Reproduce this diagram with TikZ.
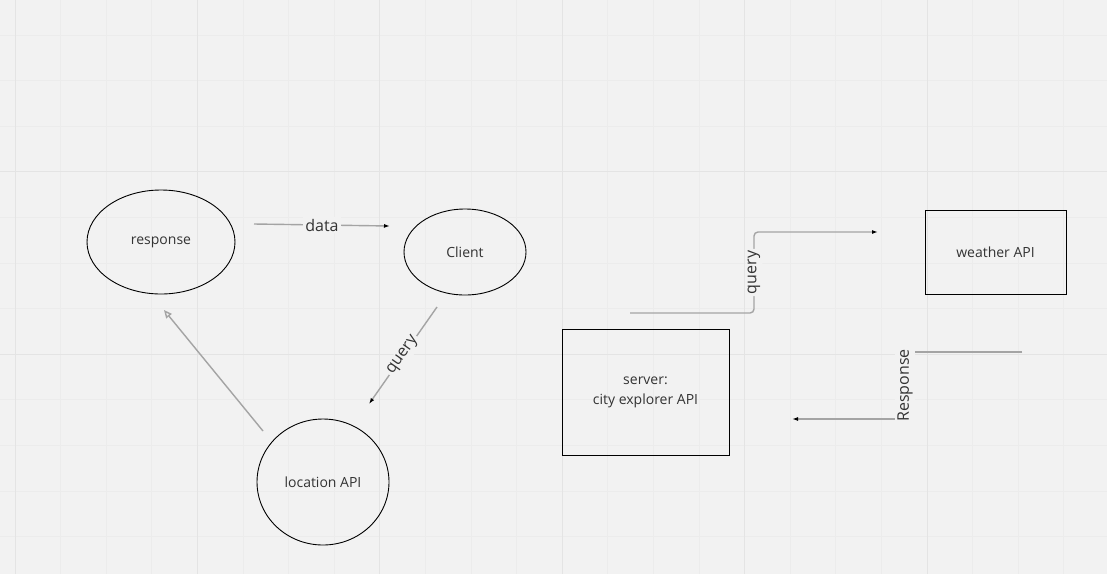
\documentclass[tikz,border=0pt]{standalone}
\usepackage{fontspec}
\setmainfont{Open Sans}
\usetikzlibrary{arrows.meta,positioning,shapes.geometric}
\definecolor{bgcol}{HTML}{F2F2F2}
\definecolor{gridmin}{HTML}{ECECEC}
\definecolor{gridmaj}{HTML}{E4E4E4}
\definecolor{linecol}{HTML}{A4A4A4}
\definecolor{textcol}{HTML}{333333}

\begin{document}
\begin{tikzpicture}[x=1pt,y=-1pt,
		conn/.style={draw=linecol,line width=1.4pt},
		tip/.style={-{Latex[black,length=6pt,width=4pt]}},
		lbl/.style={font=\fontsize{16}{18}\selectfont,fill=bgcol,inner sep=2pt,text=textcol},
		blob/.style={ellipse,draw,line width=0.9pt,inner sep=0pt,font=\fontsize{14}{16}\selectfont,text=textcol},
		box/.style={rectangle,draw,line width=0.9pt,inner sep=0pt,align=center,font=\fontsize{14}{20}\selectfont,text=textcol}]
	% background and grid
	\fill[bgcol] (0,0) rectangle (1107,574);
	\useasboundingbox (0,0) rectangle (1107,574);
	\foreach \i in {0,...,24} {
		\draw[gridmin,line width=0.8pt] (15+45.6*\i,0) -- (15+45.6*\i,574);
	}
	\foreach \j in {-1,...,12} {
		\draw[gridmin,line width=0.8pt] (0,35+45.6*\j) -- (1107,35+45.6*\j);
	}
	\foreach \i in {0,...,5} {
		\draw[gridmaj,line width=0.8pt] (15+182.4*\i,0) -- (15+182.4*\i,574);
	}
	\foreach \j in {0,...,2} {
		\draw[gridmaj,line width=0.8pt] (0,-10.6+182.4*\j) -- (1107,-10.6+182.4*\j);
	}

	\begin{scope}
		\node[blob,minimum width=148pt,minimum height=104pt] (response) at (161,242) {response};
		\node[blob,minimum width=122pt,minimum height=86pt] (client) at (465,252) {Client};
		\node[blob,minimum width=132pt,minimum height=126pt] (location) at (323,482) {location API};
		\node[box,minimum width=167pt,minimum height=126pt] (server) at (645.5,392) {server:\\city explorer API};
		\node[box,minimum width=141pt,minimum height=84pt] (weather) at (995.5,252) {weather API};
	\end{scope}

	% free ends of the connectors
	\coordinate (dataA) at (254,224);
	\coordinate (dataB) at (390,226);
	\coordinate (qryA) at (437,307);
	\coordinate (qryB) at (369,404);
	\coordinate (backA) at (263,431);
	\coordinate (backB) at (164,310);
	\coordinate (srvA) at (630,313);
	\coordinate (srvB) at (878,232);
	\coordinate (resA) at (1022,352);
	\coordinate (resB) at (792,419);

	\draw[conn,tip] (dataA) -- node[lbl] {data} (dataB);
	\draw[conn,tip] (qryA) -- node[lbl,sloped] {query} (qryB);
	\draw[conn,-{Triangle[open,length=8pt,width=7pt]}] (backA) -- (backB);
	\draw[conn,tip,rounded corners=4pt] (srvA) -- (754,313) -- node[lbl,rotate=90] {query} (754,232) -- (srvB);
	\draw[conn,tip] (resA) -- (905,352) -- node[lbl,rotate=90] {Response} (905,419) -- (resB);
\end{tikzpicture}
\end{document}
